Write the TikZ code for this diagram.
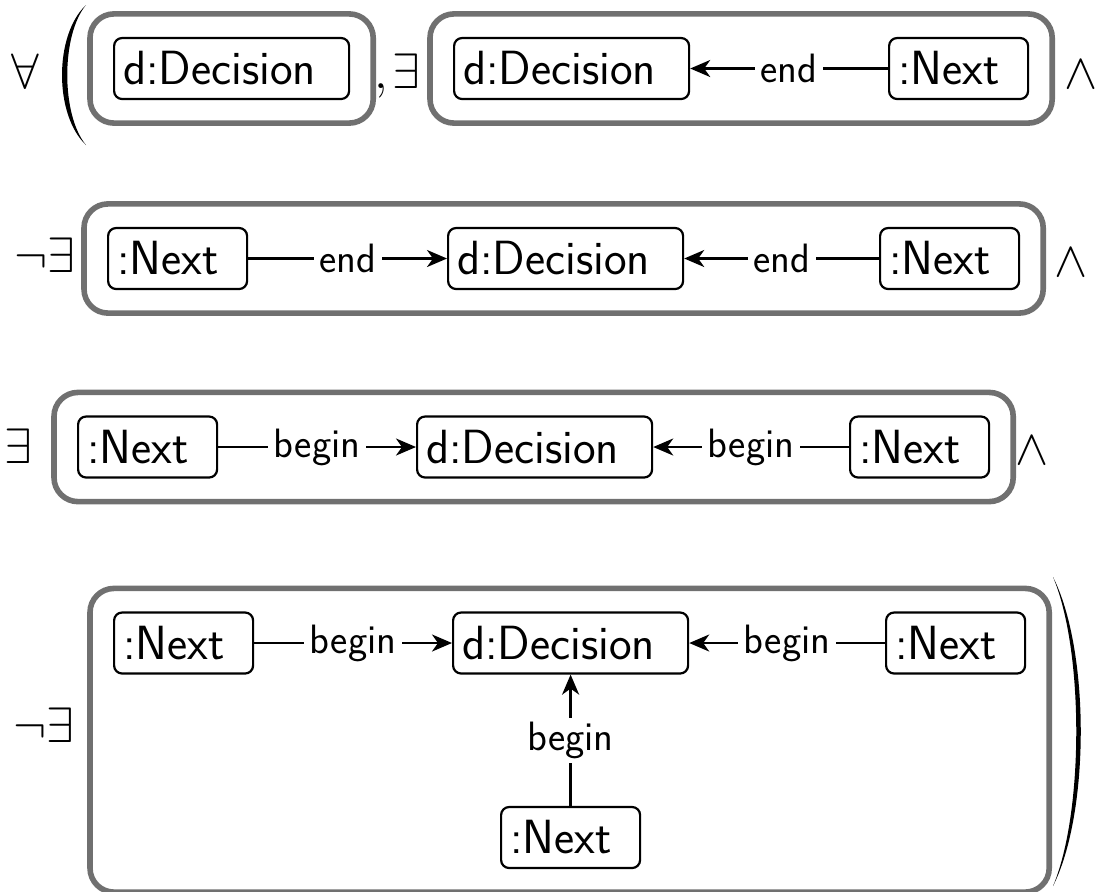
\documentclass[tikz,border=0pt]{standalone}
\usetikzlibrary{arrows.meta,fit}
\definecolor{boxgray}{RGB}{112,112,112}
\tikzset{
  ent/.style={draw, line width=1.1pt, rounded corners=4pt,
    font=\sffamily\fontsize{24}{28}\selectfont, minimum height=30.5pt,
    inner xsep=4.5pt, inner ysep=0pt, align=left, anchor=west},
  dec/.style={ent, text width=108.5pt},
  nxt/.style={ent, text width=60.5pt},
  grp/.style={draw=boxgray, line width=2.8pt, rounded corners=12pt, inner sep=11.5pt},
  rel/.style={line width=1.2pt, -{Stealth[length=10pt,width=8.5pt,inset=3pt]}},
  lbl/.style={fill=white, inner xsep=2.8pt, inner ysep=2pt, font=\sffamily\fontsize{20.5}{24}\selectfont},
  sym/.style={font=\fontsize{23}{27}\selectfont, inner sep=0pt, anchor=base},
}
\begin{document}
\begin{tikzpicture}[x=0.5pt,y=-0.5pt]
\useasboundingbox (0,0) rectangle (1101,891);
% row 1
\node[sym] (fa) at (25,88) {$\forall$};
\fill (86,5) .. controls (54,35) and (54,115) .. (86,145)
      .. controls (61,115) and (61,35) .. (86,5);
\node[dec] (A1) at (113,68.5) {d:Decision};
\node[grp, fit=(A1)] (GA) {};
\node[sym] (cm) at (381,88) {$,$};
\node[sym] (ex1) at (406,88) {$\exists$};
\node[dec] (B1) at (453,68.5) {d:Decision};
\node[nxt] (B2) at (888,68.5) {:Next};
\node[grp, fit=(B1)(B2)] (GB) {};
\draw[rel] (B2) -- node[lbl]{end} (B1);
\node[sym] (and1) at (1081,88) {$\wedge$};
% row 2
\node[sym] (ne2) at (45,272) {$\neg\exists$};
\node[nxt] (C1) at (107,258.5) {:Next};
\node[dec] (C2) at (447,258.5) {d:Decision};
\node[nxt] (C3) at (879,258.5) {:Next};
\node[grp, fit=(C1)(C2)(C3)] (GC) {};
\draw[rel] (C1) -- node[lbl]{end} (C2);
\draw[rel] (C3) -- node[lbl]{end} (C2);
\node[sym] (and2) at (1071,276) {$\wedge$};
% row 3
\node[sym] (ex3) at (18,463) {$\exists$};
\node[nxt] (D1) at (77,447) {:Next};
\node[dec] (D2) at (416,447) {d:Decision};
\node[nxt] (D3) at (849,447) {:Next};
\node[grp, fit=(D1)(D2)(D3)] (GD) {};
\draw[rel] (D1) -- node[lbl]{begin} (D2);
\draw[rel] (D3) -- node[lbl]{begin} (D2);
\node[sym] (and3) at (1032,464) {$\wedge$};
% row 4
\node[sym] (ne4) at (44,742) {$\neg\exists$};
\node[nxt] (E1) at (113,643) {:Next};
\node[dec] (E2) at (452,643) {d:Decision};
\node[nxt] (E3) at (885,643) {:Next};
\node[nxt] (E4) at (500,837.5) {:Next};
\node[grp, fit=(E1)(E2)(E3)(E4)] (GE) {};
\draw[rel] (E1) -- node[lbl]{begin} (E2);
\draw[rel] (E3) -- node[lbl]{begin} (E2);
\draw[rel] (E4) -- node[lbl]{begin} (E2);
\fill (1053,577) .. controls (1090,650) and (1090,813) .. (1053,886)
      .. controls (1084,813) and (1084,650) .. (1053,577);
\end{tikzpicture}
\end{document}
